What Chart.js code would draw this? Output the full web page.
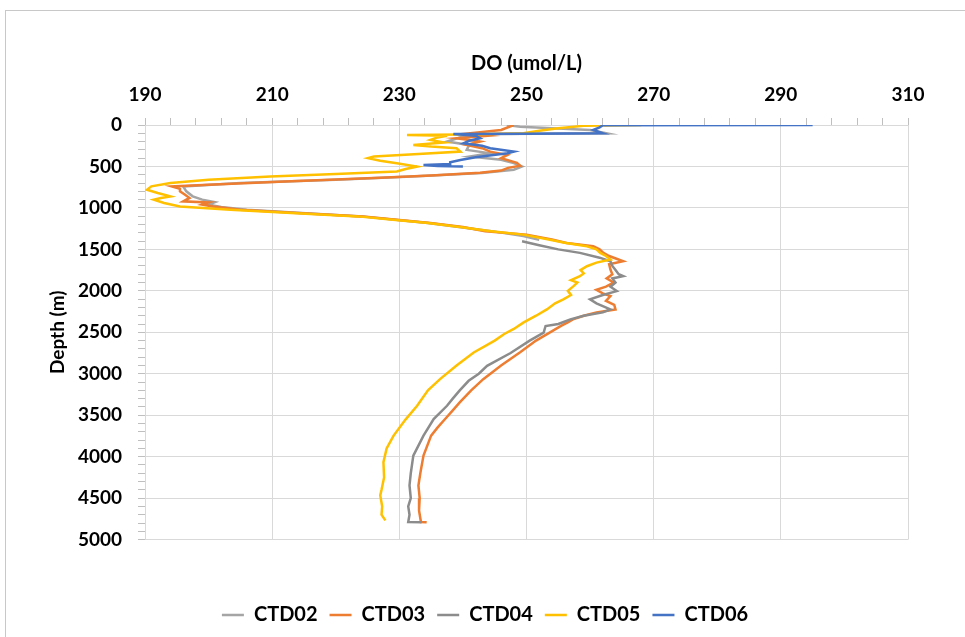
<!DOCTYPE html>
<html>
<head>
<meta charset="utf-8">
<script src="https://cdn.jsdelivr.net/npm/chart.js@4"></script>
<style>
  html, body { margin: 0; padding: 0; background: #fff; }
  #wrap { width: 965px; height: 637px; }
</style>
</head>
<body>
<div id="wrap"><canvas id="do-chart" width="965" height="637"></canvas></div>
<script>
// depth (m) and dissolved oxygen (umol/L)
const ctd02Depth = [0, 20, 60, 100, 110, 140, 200, 240, 300, 341, 381, 420, 460, 501, 540, 580, 621, 660, 700, 741, 800, 860, 900, 930, 960, 990, 1022, 1102, 1182, 1280, 1340, 1385];
const ctd02Do = [246.9, 249, 260, 262.6, 245, 240, 237.5, 241, 240.6, 244.3, 241.1, 246, 248, 249.3, 248, 243, 232, 220, 205, 196, 196.5, 197.5, 199, 201, 200, 202, 206, 224, 234.5, 244.5, 249.5, 252];

const ctd03Depth = [0, 60, 100, 130, 160, 200, 240, 280, 321, 361, 400, 457, 490, 517, 550, 577, 610, 637, 680, 720, 741, 770, 801, 841, 880, 921, 935, 960, 982, 1022, 1060, 1102, 1142, 1182, 1230, 1282, 1322, 1380, 1422, 1462, 1500, 1542, 1580, 1643, 1680, 1743, 1800, 1850, 1900, 1950, 1987, 2030, 2063, 2120, 2170, 2224, 2260, 2300, 2344, 2380, 2420, 2500, 2600, 2740, 2900, 3065, 3200, 3345, 3450, 3546, 3650, 3746, 3987, 4200, 4347, 4500, 4650, 4787, 4790];
const ctd03Do = [248, 246, 241, 244, 239, 242.7, 240.6, 243, 244.3, 247, 246, 248.5, 249, 247.1, 246, 242.7, 235, 227, 212, 200, 194.2, 195.5, 195.5, 196.3, 197, 196, 200, 199, 200.7, 205, 214, 224.3, 229.6, 234.9, 240, 243.5, 250, 254, 256.3, 260.5, 261.5, 262.1, 263, 265.2, 263, 263.2, 263.5, 262.6, 263.7, 262.5, 261, 262, 263.2, 262.5, 263.8, 264, 261, 259, 257.3, 256.5, 255.5, 253.7, 251.5, 249, 246, 243.2, 241.3, 239.5, 238.3, 237.2, 236, 235, 233.8, 233.3, 233, 233.2, 233.1, 233.4, 234.3];

const ctd04Depth = [1402, 1450, 1500, 1542, 1600, 1643, 1700, 1750, 1800, 1823, 1850, 1900, 1950, 2003, 2050, 2103, 2150, 2224, 2260, 2300, 2344, 2400, 2424, 2504, 2600, 2750, 2905, 3000, 3085, 3200, 3300, 3386, 3546, 3746, 3987, 4200, 4347, 4500, 4600, 4700, 4787, 4790];
const ctd04Do = [249.3, 252, 255, 258.4, 261.5, 263.2, 263.5, 264, 264.5, 265.2, 263.5, 264, 263.2, 264.2, 262, 260, 261, 263.2, 262, 259, 256.9, 255, 253, 252.7, 250.5, 247.5, 243.8, 242.5, 240.9, 239.5, 238.4, 237.5, 235.4, 233.8, 232.2, 231.8, 231.6, 231.8, 231.4, 231.6, 231.4, 233.5];

const ctd05Depth = [0, 10, 40, 70, 100, 115, 120, 130, 150, 180, 210, 240, 260, 280, 321, 350, 381, 400, 430, 460, 501, 530, 561, 590, 621, 660, 700, 740, 781, 820, 861, 880, 901, 940, 982, 1022, 1060, 1102, 1142, 1182, 1230, 1280, 1322, 1380, 1420, 1462, 1500, 1542, 1580, 1623, 1660, 1703, 1750, 1790, 1823, 1870, 1900, 1943, 2000, 2050, 2103, 2150, 2224, 2300, 2384, 2460, 2520, 2600, 2744, 2900, 3065, 3200, 3385, 3550, 3746, 3900, 4067, 4250, 4400, 4467, 4600, 4700, 4768];
const ctd05Do = [268, 259, 255, 252, 249.5, 240, 231.2, 237.5, 236, 234.9, 237, 232.2, 235, 239, 239.6, 233, 226, 225.1, 227, 229.6, 232.8, 231, 229.6, 220, 209.7, 200, 194, 191, 190.3, 192, 194, 192.5, 191.4, 193, 195.5, 203.4, 213, 223.5, 229, 234.5, 239.5, 244.5, 249.5, 253.5, 256, 259.5, 261, 261.6, 262.5, 263.2, 261, 259.5, 258.5, 259, 258.4, 257, 258, 257.4, 256.5, 257, 255.8, 254.5, 253.2, 251.5, 249.5, 248, 246.5, 245, 241.7, 239, 236.4, 234.5, 232.8, 231, 229.1, 228, 227.5, 227.6, 227.2, 227, 227.3, 227.2, 227.8];

const ctd06Depth = [0, 2, 30, 60, 100, 105, 110, 130, 160, 190, 220, 250, 280, 321, 340, 361, 390, 421, 450, 470, 481, 495, 500];
const ctd06Do = [295, 262, 261.5, 260.5, 262, 250, 238.5, 242, 242.7, 241, 240.1, 243, 244.3, 248, 247, 244.8, 242, 239.6, 238, 238, 233.8, 236, 240];

const seriesNames = ['CTD02', 'CTD03', 'CTD04', 'CTD05', 'CTD06'];
const seriesColors = ['#A5A5A5', '#ED7D31', '#8C8C8C', '#FFC000', '#4472C4'];
const depths = [ctd02Depth, ctd03Depth, ctd04Depth, ctd05Depth, ctd06Depth];
const oxygen = [ctd02Do, ctd03Do, ctd04Do, ctd05Do, ctd06Do];

const xMin = 190, xMax = 310, xMajor = 20, xMinor = 4;
const yMin = 0, yMax = 5000, yMajor = 500, yMinor = 100;

const gridColor = '#d9d9d9';
const tickColor = '#bfbfbf';
const textFont = { family: 'Lato', weight: 'bold', size: 19 };

function profile(i) {
    return depths[i].map((d, k) => ({ x: oxygen[i][k], y: d }));
}

const datasets = seriesNames.map((name, i) => ({
    label: name,
    data: profile(i),
    borderColor: seriesColors[i],
    backgroundColor: seriesColors[i],
    borderWidth: 2.5,
    pointRadius: 0,
    showLine: true,
    tension: 0,
    // later series on top, like the spreadsheet did
    order: seriesNames.length - i
}));

const isMajorX = v => Math.round(v - xMin) % xMajor === 0;
const isMajorY = v => Math.round(v) % yMajor === 0;

const chartBg = {
    id: 'chartBg',
    beforeDraw(chart) {
        const ctx = chart.ctx;
        ctx.save();
        ctx.fillStyle = '#fff';
        ctx.fillRect(0, 0, chart.width, chart.height);
        ctx.strokeStyle = '#c8c8c8';
        ctx.lineWidth = 1;
        ctx.strokeRect(5.5, 10.5, 1000, 700);
        ctx.restore();
    }
};

new Chart(document.getElementById('do-chart'), {
    type: 'scatter',
    data: { datasets: datasets },
    options: {
        responsive: false,
        animation: false,
        layout: { padding: { left: 5, right: 0, top: 10, bottom: 2 } },
        scales: {
            x: {
                type: 'linear',
                position: 'top',
                min: xMin,
                max: xMax,
                afterFit(s) { s.height = 115; },
                ticks: {
                    stepSize: xMinor,
                    autoSkip: false,
                    maxRotation: 0,
                    padding: 12,
                    color: '#000',
                    font: textFont,
                    callback: v => isMajorX(v) ? v : ''
                },
                grid: {
                    color: c => (c.tick && isMajorX(c.tick.value)) ? gridColor : 'rgba(0,0,0,0)',
                    tickColor: tickColor,
                    tickLength: 7
                },
                border: { color: gridColor },
                title: {
                    display: true,
                    text: 'DO (umol/L)',
                    color: '#000',
                    font: { family: 'Lato', weight: 'bold', size: 20 },
                    padding: { top: 42, bottom: 0 }
                }
            },
            y: {
                type: 'linear',
                position: 'left',
                reverse: true,
                min: yMin,
                max: yMax,
                afterFit(s) { s.width = 140; },
                ticks: {
                    stepSize: yMinor,
                    autoSkip: false,
                    padding: 16,
                    color: '#000',
                    font: textFont,
                    callback: v => isMajorY(v) ? v : ''
                },
                grid: {
                    color: c => (c.tick && isMajorY(c.tick.value)) ? gridColor : 'rgba(0,0,0,0)',
                    tickColor: tickColor,
                    tickLength: 7
                },
                border: { color: gridColor },
                title: {
                    display: true,
                    text: 'Depth (m)',
                    color: '#000',
                    font: { family: 'Lato', weight: 'bold', size: 19 },
                    padding: { top: 41, bottom: 0 }
                }
            },
            // empty strip on the right so the plot ends where the original does
            yRight: {
                type: 'linear',
                position: 'right',
                display: true,
                min: yMin,
                max: yMax,
                afterFit(s) { s.width = 57; },
                ticks: { display: false },
                grid: { display: false, drawTicks: false },
                border: { display: false }
            }
        },
        plugins: {
            legend: {
                position: 'bottom',
                title: { display: true, text: '', padding: { top: 39, bottom: 0 }, font: { size: 12 } },
                labels: {
                    usePointStyle: true,
                    pointStyle: 'line',
                    pointStyleWidth: 22,
                    boxHeight: 20,
                    padding: 12,
                    color: '#000',
                    font: { family: 'Lato', weight: 'bold', size: 20 },
                    sort: (a, b) => a.datasetIndex - b.datasetIndex
                }
            },
            tooltip: { enabled: false }
        }
    },
    plugins: [chartBg]
});
</script>
</body>
</html>
